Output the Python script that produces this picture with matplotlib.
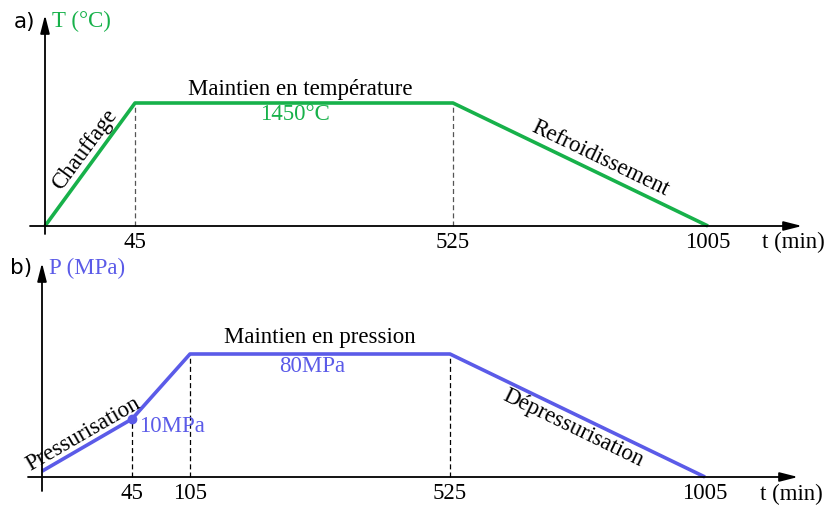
import numpy as np
import matplotlib
matplotlib.use("Agg")
import matplotlib.pyplot as plt

# ---- data ----
t_temp = [0, 45, 525, 1005]          # min
T_vals = [0, 1450, 1450, 0]          # °C
t_pres = [0, 45, 105, 525, 1005]     # min
P_vals = [1, 10, 80, 80, 0]          # MPa
ticks_a = [45, 525, 1005]
ticks_b = [45, 105, 525, 1005]

GREEN = "#17b14a"
BLUE = "#5b5be8"
SERIF = "Liberation Serif"
FS = 16.5

# piecewise-linear schematic scale (time axis)
tb = np.array([-1000, 0, 45, 105, 525, 1005, 3000], float)
ub = np.array([-2000, 0, 90, 148, 408, 663, 663 + 1995 * 255 / 480], float)
def fwd_t(x):
    return np.interp(x, tb, ub)
def inv_t(u):
    return np.interp(u, ub, tb)

# piecewise pressure scale
pb = np.array([-100, 0, 10, 80, 1000], float)
vb = np.array([-580, 0, 58, 123, 123 + 920 * 65 / 70], float)
def fwd_p(x):
    return np.interp(x, pb, vb)
def inv_p(v):
    return np.interp(v, vb, pb)

W, H = 829, 506
fig = plt.figure(figsize=(W / 100, H / 100), dpi=100)

def arrow(ax, x0, y0, x1, y1):
    ax.annotate("", xy=(x1, y1), xytext=(x0, y0), xycoords="data",
                arrowprops=dict(arrowstyle="-|>,head_length=1.1,head_width=0.28",
                                color="black", lw=1.3, shrinkA=0, shrinkB=0),
                annotation_clip=False)

# ---------------- panel a ----------------
axa = fig.add_axes([0, 253 / H, 1, 253 / H])
axa.set_xscale("function", functions=(fwd_t, inv_t))
axa.set_xlim(inv_t(-45), inv_t(W - 45))
k = 1450 / 123.0
axa.set_ylim(-(253 - 227) * k, 1450 + 104 * k)
axa.axis("off")

axa.plot(t_temp, T_vals, color=GREEN, lw=2.6, solid_capstyle="butt", zorder=3)
for tk in [45, 525]:
    axa.plot([tk, tk], [0, 1450], ls=(0, (4, 2.5)), color="#555555", lw=0.9, zorder=2)
arrow(axa, inv_t(-15), 0, inv_t(757), 0)
arrow(axa, 0, -8 * k, 0, 1450 + 88 * k)
for tk in ticks_a:
    axa.text(tk, -5 * k, str(tk), ha="center", va="top", family=SERIF, fontsize=FS)
axa.text(inv_t(717), -5 * k, "t (min)", ha="left", va="top", family=SERIF, fontsize=FS)
axa.text(-5, 1450 + 82 * k, "a)", ha="right", va="center", family="DejaVu Sans", fontsize=15.5)
axa.text(inv_t(7), 1450 + 83 * k, "T (°C)", ha="left", va="center", family=SERIF,
         fontsize=FS, color=GREEN)
axa.text(inv_t(40), 1450 - 46 * k, "Chauffage", ha="center", va="center", rotation=53.5,
         family=SERIF, fontsize=FS, rotation_mode="anchor")
axa.text(inv_t(255), 1450 + 15 * k, "Maintien en température", ha="center", va="center",
         family=SERIF, fontsize=FS)
axa.text(inv_t(250), 1450 - 10 * k, "1450°C", ha="center", va="center",
         family=SERIF, fontsize=FS, color=GREEN)
axa.text(inv_t(555), 1450 - 55 * k, "Refroidissement", ha="center", va="center",
         rotation=-25.7, family=SERIF, fontsize=FS, rotation_mode="anchor")

# ---------------- panel b ----------------
axb = fig.add_axes([0, 0, 1, 253 / H])
axb.set_xscale("function", functions=(fwd_t, inv_t))
axb.set_xlim(inv_t(-42), inv_t(W - 42))
axb.set_yscale("function", functions=(fwd_p, inv_p))
axb.set_ylim(inv_p(-(506 - 478)), inv_p(478 - 253))
axb.axis("off")

axb.plot(t_pres, P_vals, color=BLUE, lw=2.6, solid_capstyle="butt", zorder=3)
axb.plot([t_pres[1]], [P_vals[1]], "o", color=BLUE, ms=6, zorder=4)
axb.plot([45, 45], [0, 10], ls=(0, (4, 2.5)), color="black", lw=0.9, zorder=2)
for tk in [105, 525]:
    axb.plot([tk, tk], [0, 80], ls=(0, (4, 2.5)), color="black", lw=0.9, zorder=2)
arrow(axb, inv_t(-14), 0, inv_t(756), 0)
arrow(axb, 0, inv_p(-14), 0, inv_p(478 - 264))
for tk in ticks_b:
    axb.text(tk, inv_p(-5), str(tk), ha="center", va="top", family=SERIF, fontsize=FS)
axb.text(inv_t(718), inv_p(-6), "t (min)", ha="left", va="top", family=SERIF, fontsize=FS)
axb.text(-5, inv_p(478 - 268), "b)", ha="right", va="center", family="DejaVu Sans", fontsize=15.5)
axb.text(inv_t(7), inv_p(478 - 268), "P (MPa)", ha="left", va="center", family=SERIF,
         fontsize=FS, color=BLUE)
axb.text(inv_t(41), inv_p(44), "Pressurisation", ha="center", va="center", rotation=30,
         family=SERIF, fontsize=FS, rotation_mode="anchor")
axb.text(inv_t(97), inv_p(51), "10MPa", ha="left", va="center",
         family=SERIF, fontsize=FS, color=BLUE)
axb.text(inv_t(278), inv_p(140), "Maintien en pression", ha="center", va="center",
         family=SERIF, fontsize=FS)
axb.text(inv_t(270), inv_p(111), "80MPa", ha="center", va="center",
         family=SERIF, fontsize=FS, color=BLUE)
axb.text(inv_t(531), inv_p(50), "Dépressurisation", ha="center", va="center",
         rotation=-25.9, family=SERIF, fontsize=FS, rotation_mode="anchor")

fig.savefig("out.png", dpi=100)
